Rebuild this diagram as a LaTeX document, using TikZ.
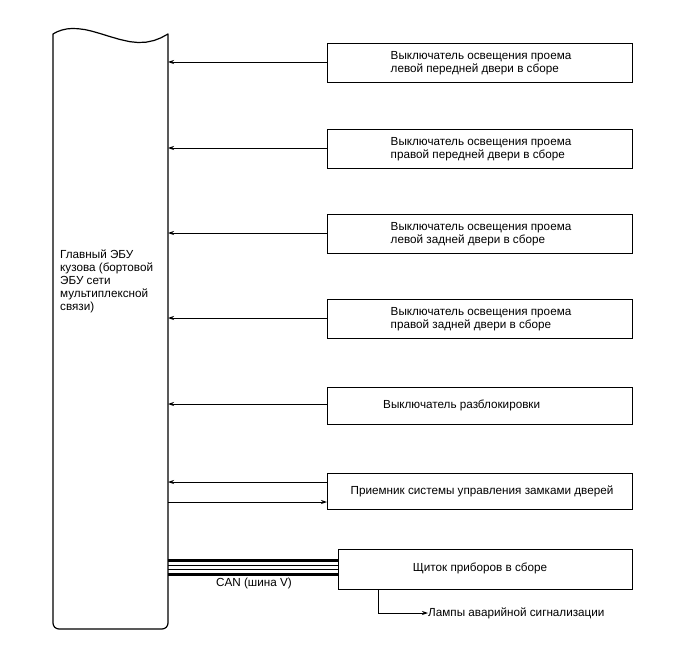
\documentclass[tikz,border=0pt]{standalone}
\usepackage{fontspec}
\setmainfont{Liberation Sans}
\usetikzlibrary{arrows.meta}
\begin{document}
\begin{tikzpicture}[x=1pt,y=-1pt,
  unitbox/.style={draw, line width=1.2pt, inner sep=0pt},
  lbl/.style={font=\fontsize{11.7}{12.5}\selectfont, align=left, inner sep=0pt},
  sig/.style={line width=0.8pt, -{Stealth[length=6pt,width=4pt]}}]
\useasboundingbox (0,0) rectangle (688,658);
% main ECU
\draw[line width=1.2pt, line join=round]
  (53,34) -- (57,31.8) -- (62,30) -- (67,28.9) -- (72,28.5) -- (78,28.7) -- (85,29.6) -- (92,31.2) -- (100,33.5) -- (110,36.6) -- (120,39.5) -- (130,41.7) -- (138,42.5) -- (146,42.2) -- (154,40.5) -- (161,37.8) -- (168,34)
  {[rounded corners=6pt] -- (168,629) -- (53,629)} -- cycle;
\node[lbl, font=\fontsize{11.7}{13}\selectfont, anchor=west] (ecu) at (60,281) {Главный ЭБУ\\кузова (бортовой\\ЭБУ сети\\мультиплексной\\связи)};
\coordinate (ecuE) at (168,300);
% boxes
\node[unitbox, minimum width=305pt, minimum height=39pt, anchor=north west] (b1) at (327,43) {};
\node[unitbox, minimum width=305pt, minimum height=39pt, anchor=north west] (b2) at (327,129) {};
\node[unitbox, minimum width=305pt, minimum height=39pt, anchor=north west] (b3) at (327,214) {};
\node[unitbox, minimum width=305pt, minimum height=39pt, anchor=north west] (b4) at (327,299) {};
\node[unitbox, minimum width=305pt, minimum height=37pt, anchor=north west] (b5) at (327,387) {};
\node[unitbox, minimum width=305pt, minimum height=36pt, anchor=north west] (b6) at (327,473) {};
\node[unitbox, minimum width=294pt, minimum height=40pt, anchor=north west] (b7) at (338,549) {};
\node[lbl] (t1) at (481,63) {Выключатель освещения проема\\левой передней двери в сборе};
\node[lbl] (t2) at (481,149) {Выключатель освещения проема\\правой передней двери в сборе};
\node[lbl] (t3) at (481,234) {Выключатель освещения проема\\левой задней двери в сборе};
\node[lbl] (t4) at (481,319) {Выключатель освещения проема\\правой задней двери в сборе};
\node[lbl, anchor=west] (t5) at (383,405) {Выключатель разблокировки};
\node[lbl] (t6) at (482,491) {Приемник системы управления замками дверей};
\node[lbl] (t7) at (480,568) {Щиток приборов в сборе};
% arrows
\draw[sig] (b1.west |- 0,62) -- (ecuE |- 0,62);
\draw[sig] (b2.west |- 0,148) -- (ecuE |- 0,148);
\draw[sig] (b3.west |- 0,233) -- (ecuE |- 0,233);
\draw[sig] (b4.west |- 0,318) -- (ecuE |- 0,318);
\draw[sig] (b5.west |- 0,404) -- (ecuE |- 0,404);
\draw[sig] (b6.west |- 0,482) -- (ecuE |- 0,482);
\draw[sig] (ecuE |- 0,502) -- (b6.west |- 0,502);
% CAN bus
\draw[line width=3pt] (ecuE |- 0,560.5) -- (b7.west |- 0,560.5);
\draw[line width=0.9pt] (ecuE |- 0,565) -- (b7.west |- 0,565);
\draw[line width=0.9pt] (ecuE |- 0,569.5) -- (b7.west |- 0,569.5);
\draw[line width=3pt] (ecuE |- 0,574) -- (b7.west |- 0,574);
\node[lbl] (can) at (254,583) {CAN (шина V)};
% lamps
\node[lbl, anchor=west] (lamp) at (428,613) {Лампы аварийной сигнализации};
\draw[sig] (b7.south -| 378,0) |- (lamp.west);
\end{tikzpicture}
\end{document}
